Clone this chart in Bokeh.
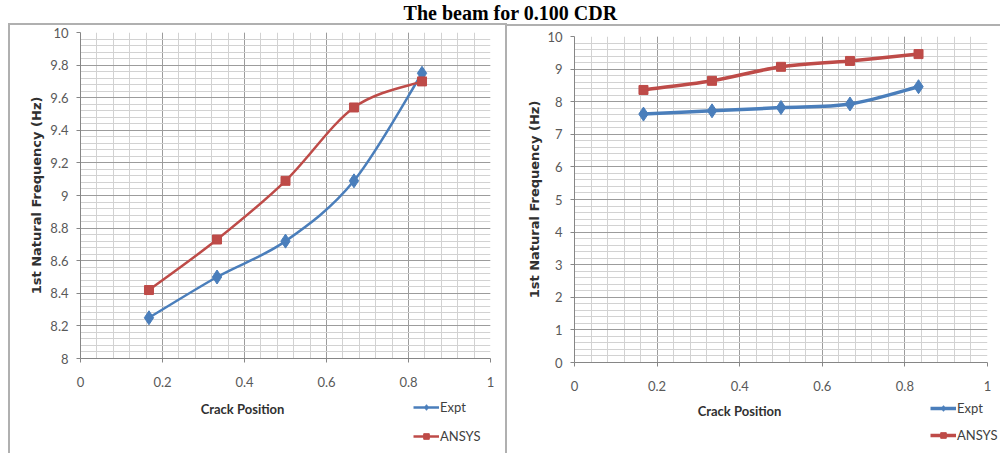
import numpy as np
from bokeh.plotting import figure
from bokeh.layouts import row, column
from bokeh.models import (FixedTicker, Label, Legend, LegendItem, Range1d, ColumnDataSource)
from bokeh.embed import file_html
from bokeh.resources import INLINE

# ---------------- data ----------------
crack_pos = [0.167, 0.333, 0.5, 0.667, 0.833]
left_expt = [8.25, 8.50, 8.72, 9.09, 9.75]
left_ansys = [8.42, 8.73, 9.09, 9.54, 9.70]
right_expt = [7.62, 7.72, 7.82, 7.93, 8.46]
right_ansys = [8.36, 8.64, 9.07, 9.25, 9.46]

x_ticks = [0, 0.2, 0.4, 0.6, 0.8, 1]
x_tick_labels = ["0", "0.2", "0.4", "0.6", "0.8", "1"]
left_y_ticks = [8, 8.2, 8.4, 8.6, 8.8, 9, 9.2, 9.4, 9.6, 9.8, 10]
left_y_tick_labels = ["8", "8.2", "8.4", "8.6", "8.8", "9", "9.2", "9.4", "9.6", "9.8", "10"]
right_y_ticks = [0, 1, 2, 3, 4, 5, 6, 7, 8, 9, 10]
right_y_tick_labels = ["0", "1", "2", "3", "4", "5", "6", "7", "8", "9", "10"]

series_names = ["Expt", "ANSYS"]
title_text = "The beam for 0.100 CDR"
x_title = "Crack Position"
y_title = "1st Natural Frequency (Hz)"

BLUE = "#4A7EBB"
RED = "#BE4B48"
TICKFONT = "Lato"
TOP = 24      # height of the title strip
FOOT = 57     # height of the strip holding x titles and legends
BOXC = "#b0b0b0"


def smooth_source(xs, ys, t=1 / 6):
    """Bezier control points (Catmull-Rom style) for a smoothed line."""
    n = len(xs)
    d = dict(x0=[], y0=[], x1=[], y1=[], cx0=[], cy0=[], cx1=[], cy1=[])
    for i in range(n - 1):
        a = max(i - 1, 0)
        b = min(i + 2, n - 1)
        d["x0"].append(xs[i]); d["y0"].append(ys[i])
        d["x1"].append(xs[i + 1]); d["y1"].append(ys[i + 1])
        d["cx0"].append(xs[i] + (xs[i + 1] - xs[a]) * t)
        d["cy0"].append(ys[i] + (ys[i + 1] - ys[a]) * t)
        d["cx1"].append(xs[i + 1] - (xs[b] - xs[i]) * t)
        d["cy1"].append(ys[i + 1] - (ys[b] - ys[i]) * t)
    return ColumnDataSource(d)


def box_css(left, top, sides, width=None):
    borders = "".join(f"border-{s}:2px solid {BOXC};" for s in sides)
    w = f"width:{width}px;" if width is not None else "right:0px;"
    return (":host::after{content:'';position:absolute;box-sizing:border-box;"
            f"left:{left}px;top:{top}px;{w}bottom:0px;{borders}"
            "pointer-events:none;}")


SERIES_STYLE = [(BLUE, "diamond", 14), (RED, "square", 9)]


def add_series(p, expt, ansys, lw):
    out = []
    for ys, (color, marker, size) in zip((expt, ansys), SERIES_STYLE):
        bz = p.bezier(x0="x0", y0="y0", x1="x1", y1="y1", cx0="cx0", cy0="cy0",
                      cx1="cx1", cy1="cy1", source=smooth_source(crack_pos, ys),
                      line_color=color, line_width=lw)
        sc = p.scatter(crack_pos, ys, marker=marker, size=size,
                       fill_color=color, line_color=color)
        out.append([bz, sc])
    return out


def make_chart(width, height, borders, yrange, yticks, ylabels, yminor, expt, ansys,
               lw, ylab_standoff, css):
    ml, mr, mt, mb = borders
    p = figure(width=width, height=height, x_range=Range1d(0, 1),
               y_range=Range1d(*yrange), output_backend="svg", title=None,
               toolbar_location=None, min_border_left=ml, min_border_right=mr,
               min_border_top=mt, min_border_bottom=mb, stylesheets=[css])
    p.outline_line_color = None
    p.background_fill_color = "white"
    p.border_fill_color = "white"

    xt = FixedTicker(ticks=x_ticks, minor_ticks=list(np.round(np.arange(0, 1.0001, 0.04), 4)))
    yt = FixedTicker(ticks=yticks, minor_ticks=yminor)
    p.xaxis.ticker = xt
    p.yaxis.ticker = yt
    p.xgrid.ticker = xt
    p.ygrid.ticker = yt
    p.xaxis.major_label_overrides = dict(zip(x_ticks, x_tick_labels))
    p.yaxis.major_label_overrides = dict(zip(yticks, ylabels))

    for g in (p.xgrid[0], p.ygrid[0]):
        g.grid_line_color = "#9c9c9c"
        g.grid_line_width = 1
        g.minor_grid_line_color = "#d2d2d2"
        g.minor_grid_line_width = 1

    for ax in (p.xaxis[0], p.yaxis[0]):
        ax.axis_line_color = "#868686"
        ax.major_tick_line_color = "#868686"
        ax.major_tick_out = 4
        ax.major_tick_in = 0
        ax.minor_tick_out = 0
        ax.minor_tick_in = 0
        ax.major_label_text_font = TICKFONT
        ax.major_label_text_font_size = "13px"
        ax.major_label_text_color = "#595959"
    p.xaxis.major_label_standoff = 14
    p.yaxis.major_label_standoff = 8
    p.yaxis.axis_label = y_title
    p.yaxis.axis_label_text_font = "DejaVu Sans"
    p.yaxis.axis_label_text_font_style = "bold"
    p.yaxis.axis_label_text_font_size = "13px"
    p.yaxis.axis_label_text_color = "#303030"
    p.yaxis.axis_label_standoff = ylab_standoff

    add_series(p, expt, ansys, lw)
    return p


left_minor = list(np.round(np.arange(8, 10.0001, 0.04), 4))
right_minor = list(np.round(np.arange(0, 10.0001, 0.2), 4))

CH = 453 - TOP - FOOT  # chart height (both charts)
p1 = make_chart(507, CH, (80, 17, 8, 38), (8, 10), left_y_ticks, left_y_tick_labels,
                left_minor, left_expt, left_ansys, 2.5, 3,
                box_css(8, -1, ["left", "top", "right"]))
p2 = make_chart(493, CH, (67, 13, 12, 34), (0, 10), right_y_ticks, right_y_tick_labels,
                right_minor, right_expt, right_ansys, 3.5, 2,
                box_css(0, 0, ["top"]))

# footer strip: x-axis titles and legends of both charts
foot = figure(width=1000, height=FOOT, x_range=Range1d(0, 1), y_range=Range1d(0, 1),
              output_backend="svg", title=None, toolbar_location=None,
              x_axis_type=None, y_axis_type=None, min_border=0,
              stylesheets=[box_css(8, 0, ["left", "right"], width=499)])
foot.grid.visible = False
foot.outline_line_color = None

# (series glyphs here lie outside this strip's y range: only their legend swatches show)
for expt, ansys, lw, loc, sp, xlab in (
        (left_expt, left_ansys, 2.5, (413, 9), 13, (242, 45)),
        (right_expt, right_ansys, 3.5, (930, 10), 11, (739, 43))):
    rends = add_series(foot, expt, ansys, lw)
    foot.add_layout(Legend(items=[LegendItem(label=n, renderers=r)
                                  for n, r in zip(series_names, rends)],
                           location=loc, orientation="vertical",
                           glyph_width=26, glyph_height=14, label_height=14,
                           label_standoff=1, spacing=sp, padding=0, margin=0,
                           border_line_alpha=0, background_fill_alpha=0,
                           label_text_font=TICKFONT, label_text_font_size="13px",
                           label_text_color="#404040"))
    foot.add_layout(Label(x=xlab[0], y=xlab[1], x_units="screen", y_units="screen",
                          text=x_title, text_align="center", text_baseline="middle",
                          text_font=TICKFONT, text_font_style="bold",
                          text_font_size="13px", text_color="#303030"))

# title strip
pt = figure(width=1000, height=TOP, x_range=Range1d(0, 1000), y_range=Range1d(0, TOP),
            output_backend="svg", title=None, toolbar_location=None, x_axis_type=None,
            y_axis_type=None, min_border=0)
pt.grid.visible = False
pt.outline_line_color = None
pt.add_layout(Label(x=510, y=TOP / 2, text=title_text, text_align="center",
                    text_baseline="middle", text_font="Liberation Serif",
                    text_font_style="bold", text_font_size="20px", text_color="black"))

layout = column(pt, row(column(p1), column(p2)), foot)
open("out.html", "w").write(file_html(layout, INLINE))
